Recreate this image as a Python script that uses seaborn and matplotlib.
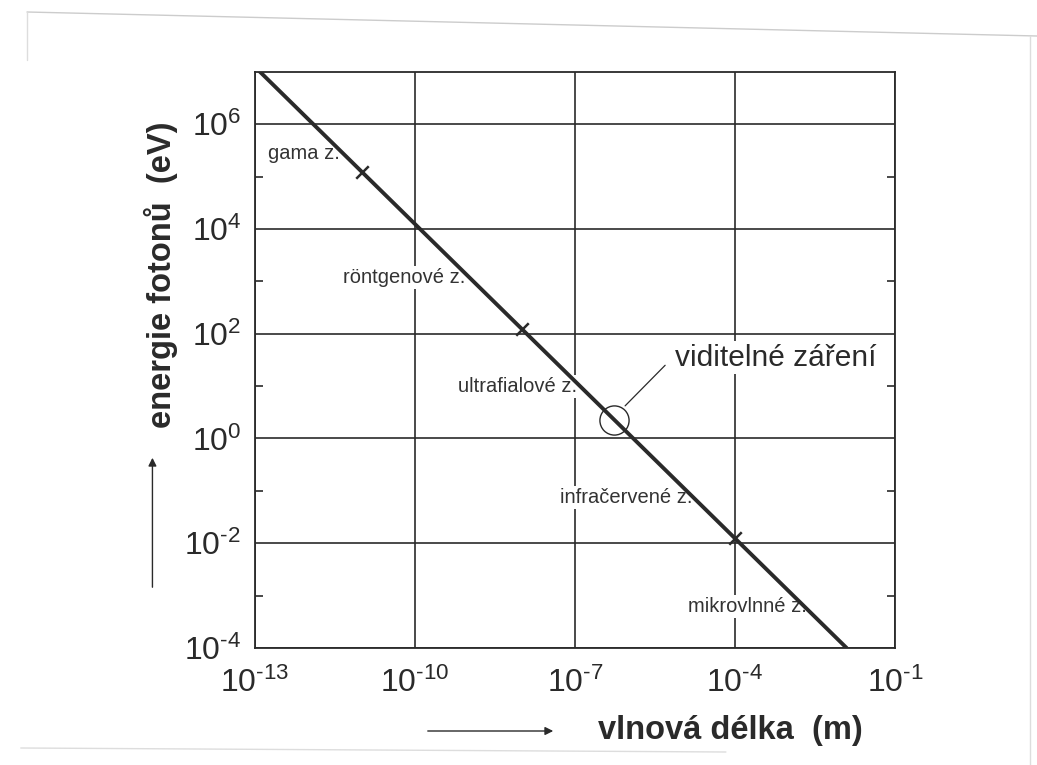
import numpy as np
import pandas as pd
import matplotlib
matplotlib.use("Agg")
import matplotlib.pyplot as plt
from matplotlib.path import Path
from matplotlib.lines import Line2D
from matplotlib.ticker import NullFormatter, NullLocator
from matplotlib.patches import FancyArrowPatch
import seaborn as sns

# ---- data ----
wavelength_m = [1e-13, 1.24e-2]          # endpoints of the line
energy_ev = [1.24e7, 1e-4]

boundary_wavelength = [1e-11, 1e-8, 1e-4]
boundary_energy = [1.24e5, 1.24e2, 1.24e-2]

visible_wavelength = [5.5e-7]
visible_energy = [2.25]

region_labels = ["gama z.", "röntgenové z.", "ultrafialové z.", "infračervené z.", "mikrovlnné z."]
region_label_x = [3.9e-12, 8.7e-10, 1.1e-7, 1.6e-5, 2.2e-3]
region_label_y = [2.8e5, 1.2e3, 1.0e1, 7.6e-2, 6.3e-4]

x_major = [1e-13, 1e-10, 1e-7, 1e-4, 1e-1]
x_major_labels = [r"$10^{\text{-}13}$", r"$10^{\text{-}10}$", r"$10^{\text{-}7}$",
                  r"$10^{\text{-}4}$", r"$10^{\text{-}1}$"]
y_major = [1e-4, 1e-2, 1e0, 1e2, 1e4, 1e6]
y_major_labels = [r"$10^{\text{-}4}$", r"$10^{\text{-}2}$", r"$10^{0}$",
                  r"$10^{2}$", r"$10^{4}$", r"$10^{6}$"]
y_minor = [1e-3, 1e-1, 1e1, 1e3, 1e5]

sns.set_theme(style="white")
plt.rcParams["font.family"] = ["Liberation Sans", "DejaVu Sans"]
plt.rcParams["mathtext.fontset"] = "custom"
plt.rcParams["mathtext.rm"] = "Liberation Sans"
plt.rcParams["mathtext.it"] = "Liberation Sans:italic"
plt.rcParams["mathtext.bf"] = "Liberation Sans:bold"

ink = "#2a2a2a"
fig = plt.figure(figsize=(10.37, 7.65), dpi=100)
ax = fig.add_axes([0.246, 0.153, 0.617, 0.753])

df = pd.DataFrame({"wavelength": wavelength_m, "energy": energy_ev})
sns.lineplot(data=df, x="wavelength", y="energy", ax=ax, color=ink, lw=2.8, zorder=4)

ax.set_xscale("log")
ax.set_yscale("log")
ax.set_xlim(1e-13, 1e-1)
ax.set_ylim(1e-4, 1e7)

ax.set_xticks(x_major)
ax.set_xticklabels(x_major_labels)
ax.set_yticks(y_major)
ax.set_yticklabels(y_major_labels)
ax.xaxis.set_minor_locator(NullLocator())
ax.set_yticks(y_minor, minor=True)
ax.yaxis.set_minor_formatter(NullFormatter())
ax.tick_params(axis="both", which="major", labelsize=23, colors=ink, length=0, pad=10)
ax.tick_params(axis="x", which="major", pad=14)
ax.tick_params(axis="y", which="minor", direction="in", length=6, width=1.2,
               color=ink, left=True, right=True)
ax.grid(True, which="major", color=ink, lw=1.2, zorder=0)
ax.set_axisbelow(True)
for sp in ax.spines.values():
    sp.set_color(ink)
    sp.set_linewidth(1.3)
ax.set_xlabel("")
ax.set_ylabel("")

# boundary tick marks across the line
tick_path = Path([(-1, -1), (1, 1)], [Path.MOVETO, Path.LINETO])
ax.plot(boundary_wavelength, boundary_energy, ls="none", marker=tick_path,
        markersize=9, markeredgewidth=1.8, color=ink, zorder=5)

# visible light circle
ax.plot(visible_wavelength, visible_energy, ls="none", marker="o", markersize=21,
        markerfacecolor="none", markeredgecolor=ink, markeredgewidth=1.0, zorder=5)

for txt, xv, yv in zip(region_labels, region_label_x, region_label_y):
    ax.text(xv, yv, txt, fontsize=14.5, color="#333333", ha="right", va="center",
            zorder=3, bbox=dict(facecolor="white", edgecolor="none", pad=1.5))

ax.annotate("", xy=(8.7e-7, 4.2), xytext=(4.9e-6, 25),
            arrowprops=dict(arrowstyle="-", color=ink, lw=0.9, shrinkA=0, shrinkB=0),
            zorder=6)
ax.text(7.5e-6, 35, "viditelné záření", fontsize=21.5, color=ink, ha="left",
        va="center", zorder=6, bbox=dict(facecolor="white", edgecolor="none", pad=2))

# axis titles with arrows
fig.text(0.155, 1 - 275 / 765, "energie fotonů  (eV)", rotation=90, fontsize=23.5,
         fontweight="bold", color=ink, ha="center", va="center")
fig.add_artist(FancyArrowPatch(
    (0.147, 1 - 590 / 765), (0.147, 1 - 455 / 765), transform=fig.transFigure,
    arrowstyle="-|>", mutation_scale=12, color=ink, lw=1.0))
fig.text(730 / 1037, 1 - 731 / 765, "vlnová délka  (m)", fontsize=23.5,
         fontweight="bold", color=ink, ha="center", va="center")
fig.add_artist(FancyArrowPatch(
    (425 / 1037, 1 - 731 / 765), (556 / 1037, 1 - 731 / 765), transform=fig.transFigure,
    arrowstyle="-|>", mutation_scale=12, color=ink, lw=1.0))

# faint scanned-page border
fig.add_artist(Line2D([27 / 1037, 1], [1 - 12 / 765, 1 - 36 / 765],
                      transform=fig.transFigure, color="#cccccc", lw=1))
fig.add_artist(Line2D([1030 / 1037, 1030 / 1037], [1 - 36 / 765, 0],
                      transform=fig.transFigure, color="#dddddd", lw=1))
fig.add_artist(Line2D([27 / 1037, 27 / 1037], [1 - 12 / 765, 1 - 60 / 765],
                      transform=fig.transFigure, color="#dddddd", lw=1))
fig.add_artist(Line2D([0.02, 0.7], [1 - 748 / 765, 1 - 752 / 765],
                      transform=fig.transFigure, color="#dddddd", lw=1))

fig.savefig("out.png", dpi=100, facecolor="white")
